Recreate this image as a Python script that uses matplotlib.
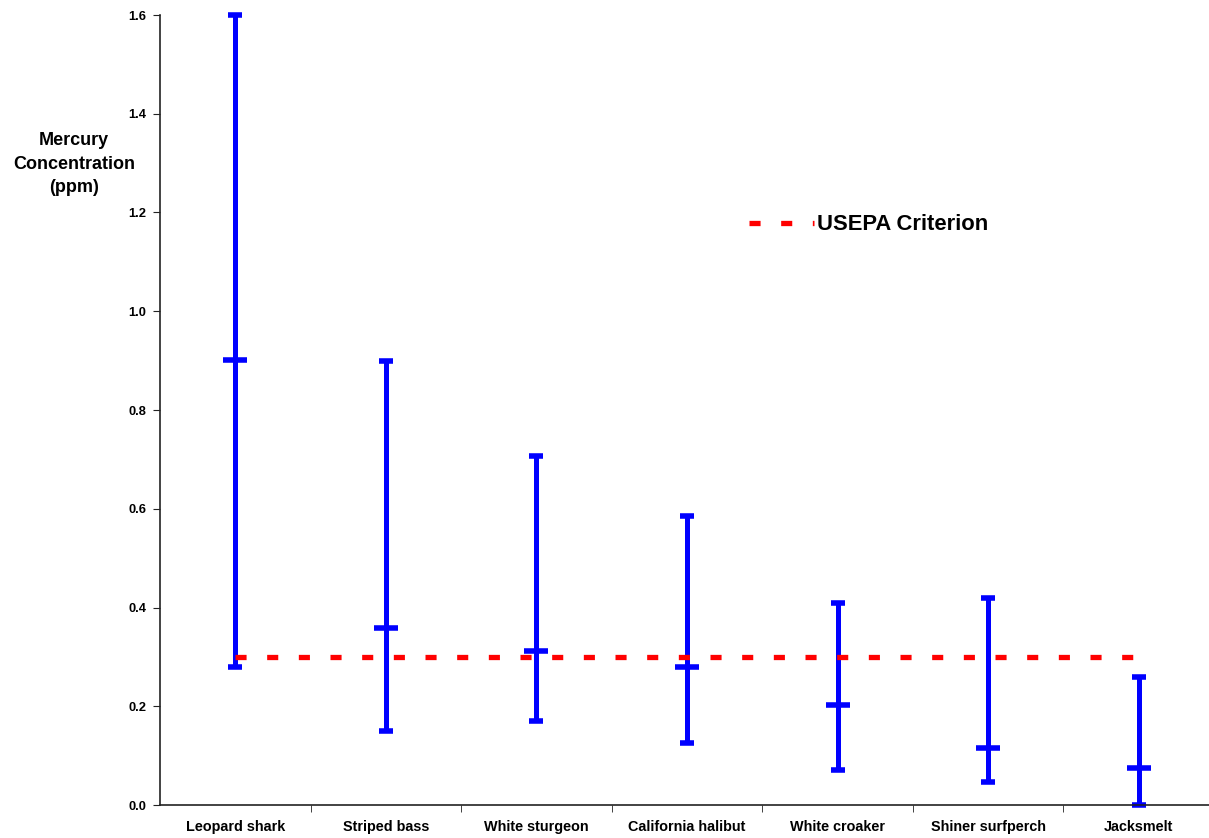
import numpy as np
import matplotlib
matplotlib.use("Agg")
import matplotlib.pyplot as plt

plt.rcParams['font.family'] = ['Liberation Sans', 'DejaVu Sans']
plt.rcParams['font.weight'] = 'bold'

# species and mercury values (ppm)
species = ["Leopard shark", "Striped bass", "White sturgeon", "California halibut",
           "White croaker", "Shiner surfperch", "Jacksmelt"]
hg_max = [1.60, 0.90, 0.707, 0.585, 0.409, 0.419, 0.26]
hg_mid = [0.901, 0.358, 0.312, 0.279, 0.203, 0.115, 0.074]
hg_min = [0.28, 0.15, 0.171, 0.126, 0.07, 0.047, 0.0]
criterion = [0.3] * len(species)

fig = plt.figure(figsize=(12.09, 8.38), dpi=100)
ax = fig.add_axes([160 / 1209, 1 - 805 / 838, 1054 / 1209, 790 / 838])

x = np.arange(len(species))
blue = (0, 0, 1)

# range bars with caps and median tick
ax.vlines(x, hg_min, hg_max, color=blue, linewidth=3.6, clip_on=False, zorder=2)
ax.plot(x, hg_max, linestyle='none', marker='_', markersize=10, markeredgewidth=4,
        color=blue, clip_on=False, zorder=2)
ax.plot(x, hg_min, linestyle='none', marker='_', markersize=10, markeredgewidth=4,
        color=blue, clip_on=False, zorder=2)
ax.plot(x, hg_mid, linestyle='none', marker='_', markersize=17, markeredgewidth=4,
        color=blue, clip_on=False, zorder=2)

# USEPA criterion line
ax.plot(x, criterion, color=(1, 0, 0), linewidth=3.8, dashes=(2.1, 3.9),
        dash_capstyle='butt', label="USEPA Criterion", zorder=3)

ax.set_xlim(-0.5, len(species) - 0.5)
ax.set_ylim(0, 1.6)
ax.set_yticks(np.arange(0, 1.61, 0.2))
ax.set_yticklabels([f"{v:.1f}" for v in np.arange(0, 1.61, 0.2)], fontsize=9.3, fontweight='bold')
ax.set_xticks(x)
ax.set_xticklabels(species, fontsize=10.4, fontweight='bold')
ax.set_xticks(np.arange(0.5, len(species) - 0.5, 1), minor=True)
ax.tick_params(axis='x', which='major', length=0, pad=11)
ax.tick_params(axis='x', which='minor', length=5, direction='out', color='#222222')
ax.tick_params(axis='y', length=5, direction='out', pad=5, color='#222222')

for side in ['top', 'right']:
    ax.spines[side].set_visible(False)
for side in ['left', 'bottom']:
    ax.spines[side].set_color('#222222')
    ax.spines[side].set_linewidth(1.2)

fig.text(74 / 1209, 1 - 164 / 838, "Mercury\nConcentration\n(ppm)", ha='center', va='center',
         fontsize=13, fontweight='bold', linespacing=1.5)

ax.legend(loc='center left', bbox_to_anchor=(749 / 1209, 1 - 225 / 838),
          bbox_transform=fig.transFigure, frameon=False,
          handlelength=2.95, handletextpad=0.15, borderpad=0, borderaxespad=0,
          prop={'weight': 'bold', 'size': 15.8})

fig.savefig("out.png", dpi=100)
